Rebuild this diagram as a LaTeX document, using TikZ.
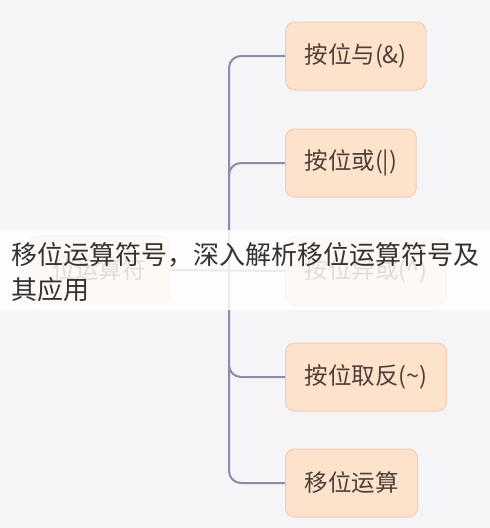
\documentclass[tikz,border=0pt]{standalone}
\usepackage{fontspec}
\setmainfont{Noto Sans CJK SC}
\usetikzlibrary{positioning}
\definecolor{canvas}{HTML}{F5F5F7}
\definecolor{peach}{HTML}{FDE3CC}
\definecolor{peachline}{HTML}{EFCDB4}
\definecolor{optext}{HTML}{4E3F38}
\definecolor{branch}{HTML}{8C8BA8}
\tikzstyle{op}=[
    draw=peachline, fill=peach, rounded corners=9pt,
    line width=1pt, text=optext,
    minimum height=68pt, inner xsep=19pt,
    font=\fontsize{23.5}{28}\selectfont,
]
\tikzstyle{link}=[draw=branch, line width=2pt, rounded corners=12pt]

\begin{document}
\begin{tikzpicture}[x=1pt, y=-1pt]
        \fill[canvas] (0,0) rectangle (490,528);
        \useasboundingbox (0,0) rectangle (490,528);

        % root and its five children
        \node[op, minimum width=142pt] (root) at (99,270) {位运算符};
        \node[op, anchor=west] (band) at (285,56) {按位与(\&)};
        \node[op, anchor=west] (bor) at (285,163) {按位或(|)};
        \node[op, anchor=west] (bxor) at (285,271) {按位异或(\textasciicircum)};
        \node[op, anchor=west] (bnot) at (285,377) {按位取反(\textasciitilde)};
        \node[op, anchor=west] (shift) at (285,483) {移位运算};

        \coordinate (fork) at (229,271);
        \path[link]
            (root.east) -- (bxor.west)
            (fork) |- (band.west)
            (fork) |- (bor.west)
            (fork) |- (bnot.west)
            (fork) |- (shift.west)
        ;

        % title band over the picture
        \fill[white, opacity=0.82] (0,230) rectangle (490,310);
        \node[anchor=north west, align=left, inner sep=0pt, text=black!80,
            font=\fontsize{26}{35}\selectfont] (title) at (11,242)
            {移位运算符号，深入解析移位运算符号及\\其应用};
    \end{tikzpicture}
\end{document}
